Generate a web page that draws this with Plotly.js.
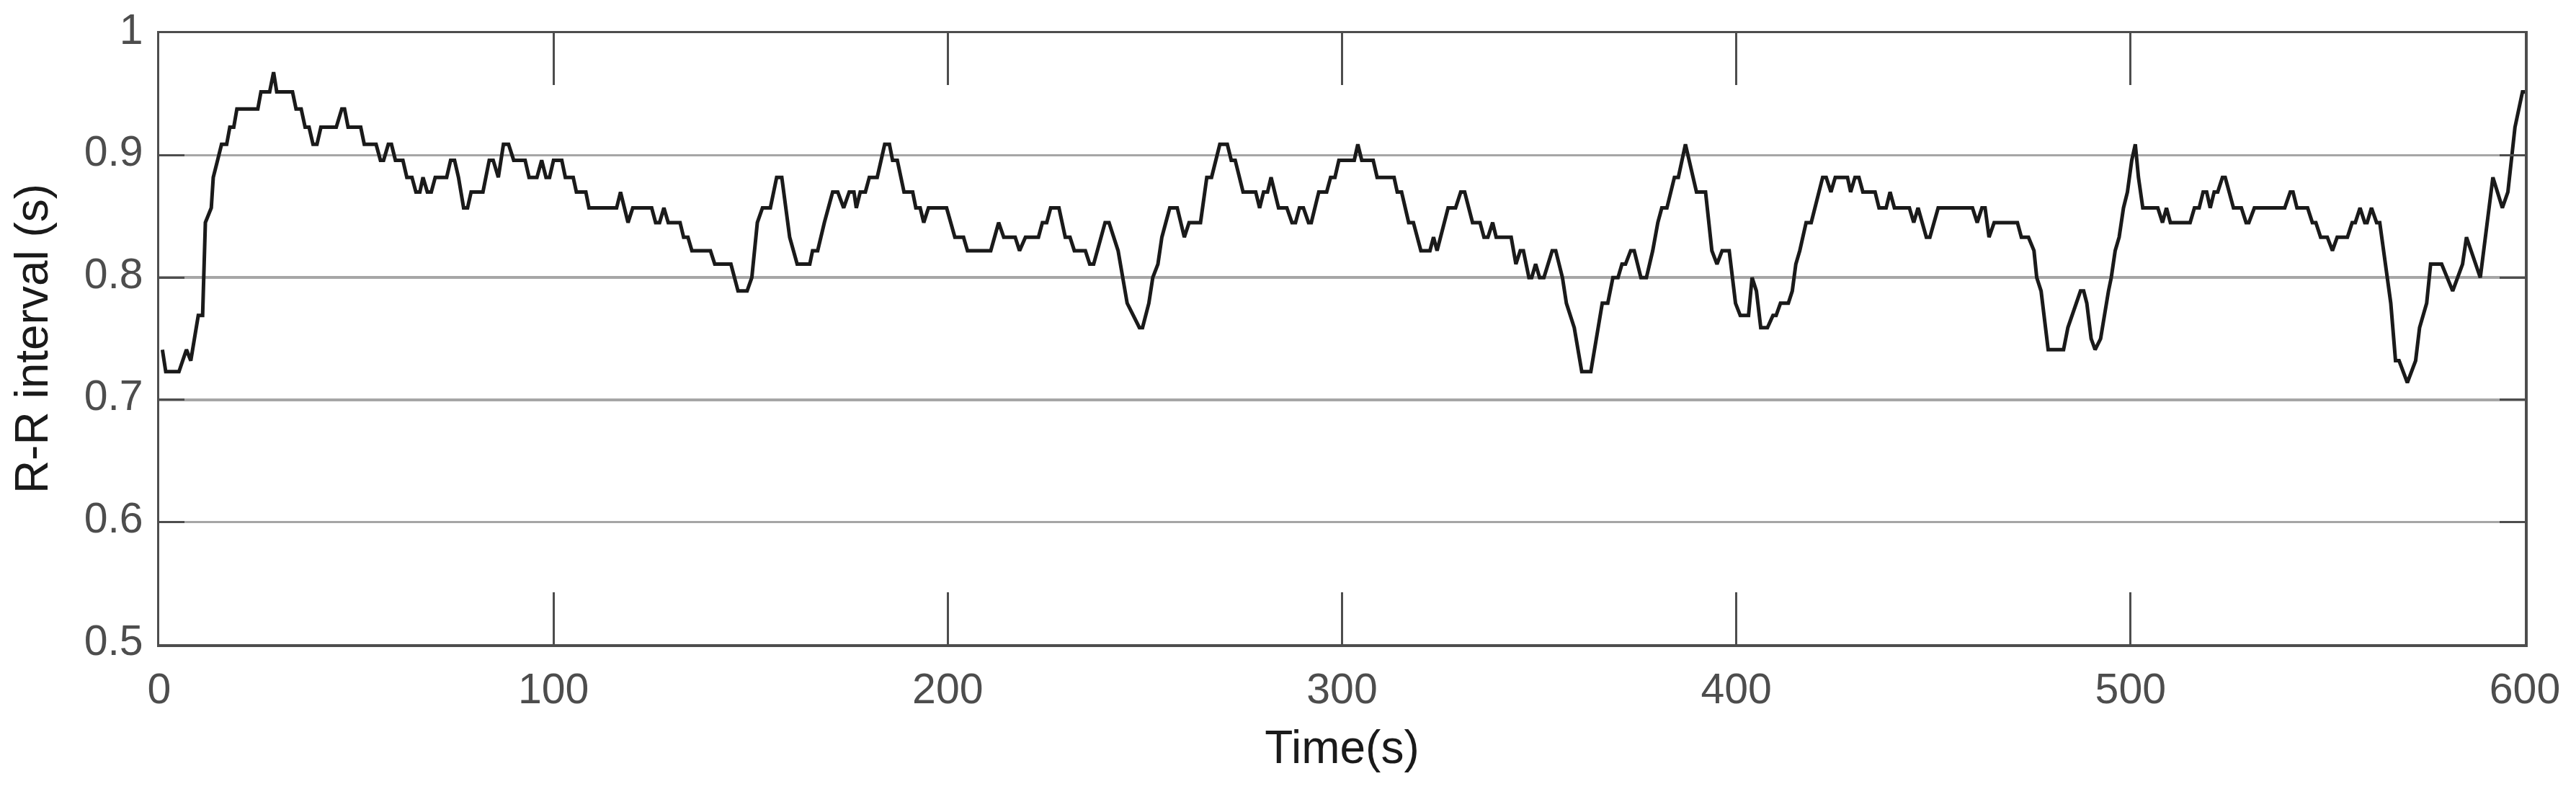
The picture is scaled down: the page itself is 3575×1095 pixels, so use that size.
<!DOCTYPE html>
<html>
<head>
<meta charset="utf-8">
<script src="https://cdn.plot.ly/plotly-3.0.1.min.js"></script>
<style>html,body{margin:0;padding:0;background:#fff;}#chart{width:3575px;height:1095px;}</style>
</head>
<body>
<div id="chart"></div>
<script>
// Time (s) of each vertex of the R-R trace
const timeSec = [
0.8,1.65,5.0,6.9,8.0,9.9,11.0,11.7,13.2,13.7,14.8,15.8,17.1,17.9,18.9,19.7,25.0,25.8,28.0,29.0,29.8,33.8,34.7,36.0,37.0,38.0,39.0,40.0,41.0,44.9,46.3,47.0,47.9,51.1,52.0,55.0,56.1,56.9,58.1,58.9,59.9,61.8,62.8,64.1,65.1,66.1,66.9,68.0,69.0,70.0,72.9,73.9,74.9,75.9,77.2,78.2,79.1,82.1,83.7,84.7,86.0,87.3,88.6,89.9,92.8,93.8,95.8,97.0,98.1,99.0,100.0,102.1,
103.0,105.0,105.8,108.2,109.0,116.0,117.0,118.9,120.1,124.9,125.9,126.9,128.0,129.1,132.1,133.0,134.1,135.1,139.8,140.9,145.0,146.8,149.1,150.3,151.7,153.0,155.0,156.6,157.9,159.9,161.8,165.0,165.7,167.0,168.7,170.8,172.1,173.6,175.0,176.2,176.8,177.8,179.1,180.1,182.1,184.0,185.2,186.0,187.2,188.9,191.1,191.9,193.0,193.9,195.1,199.7,
201.8,204.0,205.0,210.9,212.9,214.2,217.1,218.2,219.7,223.0,224.0,225.1,226.1,228.2,229.8,231.0,232.1,234.9,236.0,237.0,239.9,240.9,243.2,245.5,248.6,249.4,251.0,252.0,253.3,254.3,256.3,258.2,260.0,261.2,264.1,265.7,266.9,269.0,270.9,271.9,272.9,274.9,278.1,279.1,280.1,281.1,282.0,283.9,286.0,287.3,288.2,289.2,290.2,291.5,292.2,294.1,296.1,297.1,298.2,299.2,
303.1,304.0,305.0,307.9,308.9,313.2,314.0,315.1,316.9,318.1,320.0,322.3,323.2,324.1,326.9,328.8,330.1,331.1,333.1,335.0,336.0,337.0,338.2,339.1,342.9,344.1,345.2,346.0,347.4,348.1,349.1,350.1,351.2,353.3,354.2,355.9,356.9,358.9,360.8,363.1,366.0,367.4,368.7,370.0,371.0,371.9,373.2,374.1,375.8,377.2,378.8,380.1,381.1,382.4,384.3,385.3,387.1,389.9,392.2,393.8,395.1,396.4,398.2,
399.8,401.0,403.1,404.0,405.1,406.2,407.9,409.3,410.1,411.2,413.2,414.2,415.1,416.1,417.7,419.0,421.9,422.8,424.0,425.1,428.2,429.0,430.1,431.1,432.1,435.2,436.2,438.0,439.0,440.1,443.9,445.0,446.1,448.2,449.1,451.2,459.9,461.1,462.3,463.1,464.1,465.4,471.3,472.3,474.1,475.5,476.2,477.3,479.1,483.0,484.1,487.3,488.1,488.9,490.0,491.0,492.4,494.4,495.1,
496.1,497.1,498.2,499.2,500.3,501.2,502.0,503.1,506.9,508.1,509.1,510.1,515.1,516.2,517.4,518.4,519.3,520.2,521.2,522.1,523.3,524.0,526.1,528.1,529.3,530.0,531.4,539.1,540.5,541.2,542.2,544.9,546.1,547.0,548.2,549.9,551.2,552.4,555.0,556.2,557.0,558.2,559.4,560.0,561.1,562.4,563.2,564.2,566.0,567.2,568.1,570.2,572.3,573.3,575.1,576.1,578.9,581.7,584.2,585.2,588.7,591.9,594.3,595.7,597.5,599.4,600.0
];
// R-R interval (s) at each vertex
const rrInterval = [
0.741,0.723,0.723,0.741,0.732,0.769,0.769,0.845,0.857,0.882,0.896,0.909,0.909,0.923,0.923,0.938,0.938,0.952,0.952,0.968,0.952,0.952,0.938,0.938,0.923,0.923,0.909,0.909,0.923,0.923,0.938,0.938,0.923,0.923,0.909,0.909,0.896,0.896,0.909,0.909,0.896,0.896,0.882,0.882,0.870,0.870,0.882,0.870,0.870,0.882,0.882,0.896,0.896,0.882,0.857,0.857,0.870,0.870,0.896,0.896,0.882,0.909,0.909,0.896,0.896,0.882,0.882,0.896,0.882,0.882,0.896,0.896,
0.882,0.882,0.870,0.870,0.857,0.857,0.870,0.845,0.857,0.857,0.845,0.845,0.857,0.845,0.845,0.833,0.833,0.822,0.822,0.811,0.811,0.789,0.789,0.800,0.845,0.857,0.857,0.882,0.882,0.833,0.811,0.811,0.822,0.822,0.845,0.870,0.870,0.857,0.870,0.870,0.857,0.870,0.870,0.882,0.882,0.909,0.909,0.896,0.896,0.870,0.870,0.857,0.857,0.845,0.857,0.857,
0.833,0.833,0.822,0.822,0.845,0.833,0.833,0.822,0.833,0.833,0.845,0.845,0.857,0.857,0.833,0.833,0.822,0.822,0.811,0.811,0.845,0.845,0.822,0.779,0.759,0.759,0.779,0.800,0.811,0.833,0.857,0.857,0.833,0.845,0.845,0.882,0.882,0.909,0.909,0.896,0.896,0.870,0.870,0.857,0.870,0.870,0.882,0.857,0.857,0.845,0.845,0.857,0.857,0.845,0.845,0.870,0.870,0.882,0.882,0.896,
0.896,0.909,0.896,0.896,0.882,0.882,0.870,0.870,0.845,0.845,0.822,0.822,0.833,0.822,0.857,0.857,0.870,0.870,0.845,0.845,0.833,0.833,0.845,0.833,0.833,0.811,0.822,0.822,0.800,0.800,0.811,0.800,0.800,0.822,0.822,0.800,0.779,0.759,0.723,0.723,0.779,0.779,0.800,0.800,0.811,0.811,0.822,0.822,0.800,0.800,0.822,0.845,0.857,0.857,0.882,0.882,0.909,0.870,0.870,0.822,0.811,0.822,0.822,
0.779,0.769,0.769,0.800,0.789,0.759,0.759,0.769,0.769,0.779,0.779,0.789,0.811,0.822,0.845,0.845,0.882,0.882,0.870,0.882,0.882,0.870,0.882,0.882,0.870,0.870,0.857,0.857,0.870,0.857,0.857,0.845,0.857,0.833,0.833,0.857,0.857,0.845,0.857,0.857,0.833,0.845,0.845,0.833,0.833,0.822,0.800,0.789,0.741,0.741,0.759,0.789,0.789,0.779,0.750,0.741,0.750,0.789,0.800,
0.822,0.833,0.857,0.870,0.896,0.909,0.882,0.857,0.857,0.845,0.857,0.845,0.845,0.857,0.857,0.870,0.870,0.857,0.870,0.870,0.882,0.882,0.857,0.857,0.845,0.845,0.857,0.857,0.870,0.870,0.857,0.857,0.845,0.845,0.833,0.833,0.822,0.833,0.833,0.845,0.845,0.857,0.845,0.845,0.857,0.845,0.845,0.822,0.779,0.732,0.732,0.714,0.732,0.759,0.779,0.811,0.811,0.789,0.811,0.833,0.800,0.882,0.857,0.870,0.923,0.952,0.952
];
const xTickVals = [0, 100, 200, 300, 400, 500, 600];
const yTickVals = [0.5, 0.6, 0.7, 0.8, 0.9, 1];
const yTickText = ['0.5', '0.6', '0.7', '0.8', '0.9', '1'];

const FONT = '"Liberation Sans", Arial, Helvetica, sans-serif';
const AX = '#4d4d4d';

const trace = {
  x: timeSec, y: rrInterval, type: 'scatter', mode: 'lines',
  line: {color: '#1a1a1a', width: 5, shape: 'linear'},
  hoverinfo: 'skip'
};

const layout = {
  width: 3575, height: 1095,
  margin: {l: 221, r: 71, t: 46, b: 201, pad: 0},
  paper_bgcolor: '#ffffff', plot_bgcolor: '#ffffff',
  showlegend: false,
  font: {family: FONT, color: AX},
  xaxis: {
    range: [0, 600], tickmode: 'array', tickvals: xTickVals,
    ticks: 'inside', ticklen: 72, tickwidth: 3, tickcolor: AX,
    showline: true, linewidth: 3.5, linecolor: AX, mirror: 'ticks',
    showgrid: false, zeroline: false,
    tickfont: {family: FONT, size: 59, color: AX},
    ticklabelstandoff: 8,
    title: {text: 'Time(s)', font: {family: FONT, size: 64, color: '#1a1a1a'}, standoff: 27}
  },
  yaxis: {
    range: [0.5, 1], tickmode: 'array', tickvals: yTickVals, ticktext: yTickText,
    ticks: 'inside', ticklen: 35, tickwidth: 3, tickcolor: AX,
    showline: true, linewidth: 3.5, linecolor: AX, mirror: 'ticks',
    showgrid: true, gridcolor: '#a6a6a6', gridwidth: 3.5, zeroline: false,
    tickfont: {family: FONT, size: 59, color: AX},
    ticklabelstandoff: 7, ticklabelshift: -6,
    title: {text: 'R-R interval (s)', font: {family: FONT, size: 64, color: '#1a1a1a'}, standoff: 30}
  }
};

Plotly.newPlot('chart', [trace], layout, {staticPlot: true, displayModeBar: false});
</script>
</body>
</html>
